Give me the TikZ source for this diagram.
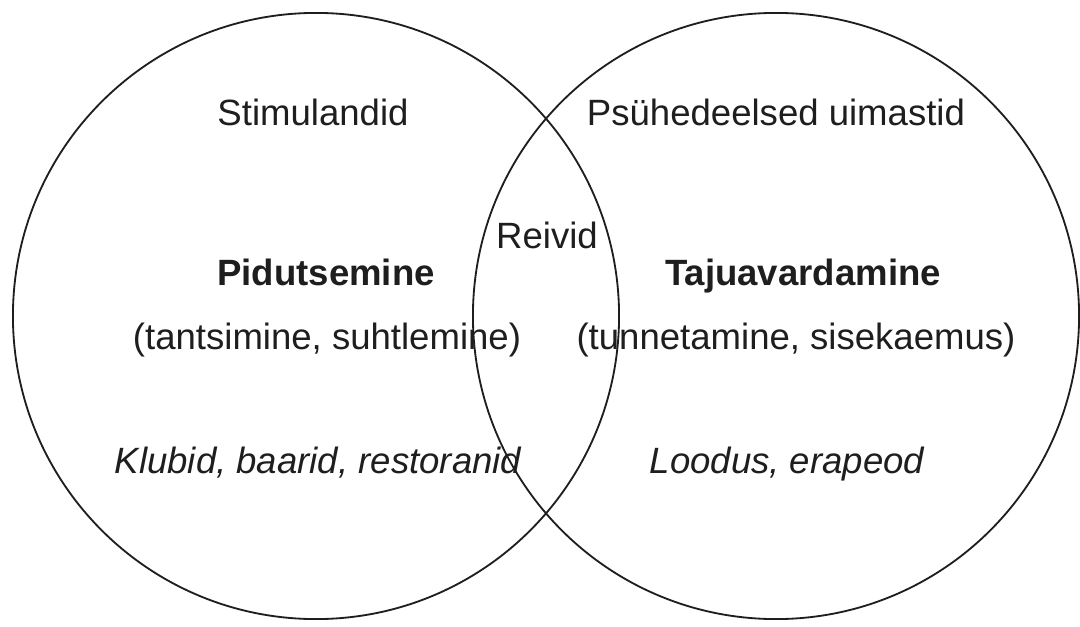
\documentclass[tikz,border=0pt]{standalone}
\usepackage{fontspec}
\setmainfont{Liberation Sans}
\usepackage{tikz}
\usetikzlibrary{positioning}
\definecolor{Ink}{HTML}{1E1E1E}
\definecolor{Paper}{HTML}{FFFFFF}

\begin{document}
\begin{tikzpicture}[x=0.025cm,y=-0.025cm,
    ring/.style={circle,draw=Ink,line width=1.3pt,minimum size=15.15cm,inner sep=0pt},
    label/.style={anchor=base,text=Ink,inner sep=0pt,font=\fontsize{26}{31}\selectfont}]
    \useasboundingbox[fill=Paper] (0,0) rectangle (1080,626);

    \node[ring] (party) at (316,316) {};
    \node[ring] (trip) at (776,316) {};

    \node[label] (stim) at (313,125) {Stimulandid};
    \node[label] (psych) at (776,125) {Psühedeelsed uimastid};
    \node[label] (rave) at (547,248) {Reivid};

    \node[label,font=\fontsize{26}{31}\selectfont\bfseries] (partytitle) at (326,285) {Pidutsemine};
    \node[label,font=\fontsize{26}{31}\selectfont\bfseries] (triptitle) at (803,285) {Tajuavardamine};

    \node[label] (partywhat) at (327,349) {(tantsimine, suhtlemine)};
    \node[label] (tripwhat) at (796,349) {(tunnetamine, sisekaemus)};

    \node[label,font=\fontsize{26}{31}\selectfont\itshape] (partywhere) at (318,473) {Klubid, baarid, restoranid};
    \node[label,font=\fontsize{26}{31}\selectfont\itshape] (tripwhere) at (787,473) {Loodus, erapeod};
  \end{tikzpicture}
\end{document}
